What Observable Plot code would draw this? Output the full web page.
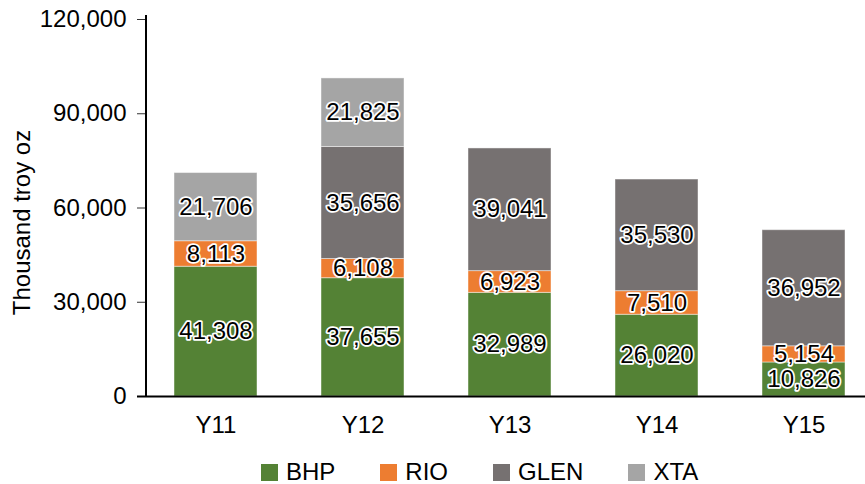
<!DOCTYPE html>
<html><head><meta charset="utf-8">
<script src="https://cdn.jsdelivr.net/npm/d3@7"></script>
<script src="https://cdn.jsdelivr.net/npm/@observablehq/plot@0.6"></script>
<style>
body{margin:0;background:#fff;font-family:"Liberation Sans",Arial,sans-serif;}
#legend{display:flex;align-items:center;height:34px;margin-top:10px;padding-left:261px;font-size:24px;color:#000}
.item{display:flex;align-items:center;margin-right:45px}
.sw{width:17px;height:17px;margin-right:8px}
</style></head><body>
<div id="chart"></div>
<div id="legend"></div>
<script>
const years = ["Y11","Y12","Y13","Y14","Y15"];
const series = ["BHP","RIO","GLEN","XTA"];
const colors = ["#548235","#ED7D31","#767171","#A5A5A5"];
const bhp  = [41308, 37655, 32989, 26020, 10826];
const rio  = [8113, 6108, 6923, 7510, 5154];
const glen = [null, 35656, 39041, 35530, 36952];
const xta  = [21706, 21825, null, null, null];
const yTicks = [0, 30000, 60000, 90000, 120000];
const yLabel = "Thousand troy oz";

const valuesBySeries = [bhp, rio, glen, xta];
const rows = [];
series.forEach((s, si) => years.forEach((yr, yi) => {
  const v = valuesBySeries[si][yi];
  if (v != null) rows.push({year: yr, series: s, value: v});
}));
const fmt = d3.format(",");
const font = "'Liberation Sans', Arial, sans-serif";

const chart = Plot.plot({
  width: 865,
  height: 445,
  marginLeft: 146,
  marginRight: 0,
  marginTop: 19,
  marginBottom: 49,
  style: {fontFamily: font, fontSize: "24px", color: "#000", background: "#fff"},
  x: {domain: years, range: [146, 873], paddingInner: 0.435, paddingOuter: 0.19},
  y: {domain: [0, 120000]},
  color: {domain: series, range: colors},
  marks: [
    Plot.barY(rows, Plot.stackY({x: "year", y: "value", z: "series", fill: "series",
      stroke: "white", strokeOpacity: 0.45, strokeWidth: 1})),
    Plot.text(rows, Plot.stackY({x: "year", y: "value", z: "series",
      text: d => fmt(d.value), fill: "black", stroke: "white", strokeWidth: 3.5,
      fontSize: 24, fontFamily: font})),
    Plot.axisY({ticks: yTicks, tickFormat: fmt, tickSize: 9, tickPadding: 11,
      fontSize: 24, label: null, stroke: "#333"}),
    Plot.axisX({tickSize: 0, tickPadding: 19, fontSize: 24, label: null}),
    Plot.ruleY([0], {stroke: "black", strokeWidth: 2, insetLeft: -9}),
    Plot.text([yLabel], {frameAnchor: "left", textAnchor: "middle", rotate: -90,
      dx: -124, dy: 14.5, fontSize: 24, fontFamily: font, fill: "black"})
  ]
});

// y-axis line drawn from the library's scales
const ys = chart.scale("y"), xs = chart.scale("x");
d3.select(chart).append("line")
  .attr("x1", xs.range[0]).attr("x2", xs.range[0])
  .attr("y1", ys.apply(yTicks[yTicks.length - 1]) - 4).attr("y2", ys.apply(0))
  .attr("stroke", "black").attr("stroke-width", 2);

document.getElementById("chart").appendChild(chart);

const legend = document.getElementById("legend");
series.forEach((s, i) => {
  const it = document.createElement("div");
  it.className = "item";
  const sw = document.createElement("div");
  sw.className = "sw";
  sw.style.background = colors[i];
  const t = document.createElement("span");
  t.textContent = s;
  it.appendChild(sw); it.appendChild(t);
  legend.appendChild(it);
});
</script>
</body></html>
